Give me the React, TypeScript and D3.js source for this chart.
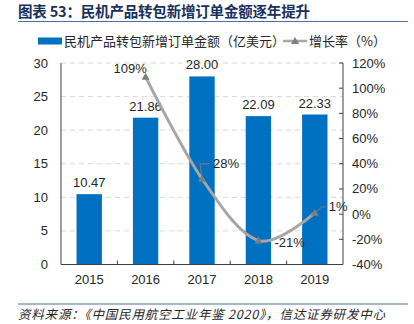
import React from "react";
import * as d3 from "d3";

const years = ["2015", "2016", "2017", "2018", "2019"];
const orders = [10.47, 21.86, 28.0, 22.09, 22.33];
const growthYears = ["2016", "2017", "2018", "2019"];
const growth = [109, 28, -21, 1];
const leftTicks = [0, 5, 10, 15, 20, 25, 30];
const rightTicks = [-40, -20, 0, 20, 40, 60, 80, 100, 120];

const W = 414, H = 324;
const plotL = 61, plotR = 343, plotT = 63, plotB = 264.5;
const font = "'Liberation Sans', Arial, sans-serif";
const txt = "#262626";

export default function App() {
  const x = d3.scaleBand<string>().domain(years).range([plotL, plotR]).paddingInner(0.55).paddingOuter(0.275);
  const xc = (d: string) => (x(d) as number) + x.bandwidth() / 2;
  const yL = d3.scaleLinear().domain([0, 30]).range([plotB, plotT]);
  const yR = d3.scaleLinear().domain([-40, 120]).range([plotB, plotT]);
  const step = (plotR - plotL) / years.length;

  const pts: [number, number][] = growthYears.map((d, i) => [xc(d), yR(growth[i])]);
  const line = d3.line().curve(d3.curveCardinal.tension(0))(pts) || "";

  const tri = (cx: number, cy: number) => `M${cx},${cy - 4} L${cx + 4},${cy + 3} L${cx - 4},${cy + 3} Z`;

  const labelPos = [
    { dx: -32, dy: -8, anchor: "start" },
    { dx: 11, dy: -15, anchor: "start", leader: true },
    { dx: 16, dy: 2, anchor: "start" },
    { dx: 14, dy: -6, anchor: "start", leader: true },
  ];

  return (
    <svg width={W} height={H} style={{ position: "absolute", left: 0, top: 0, background: "#fff" }}>
      {/* Title */}
      <text x={18} y={17} fontFamily="'Noto Sans CJK SC', sans-serif" fontWeight={700} fontSize={14.5} fill="#17305E" textLength={292} lengthAdjust="spacing">
        图表 53：民机产品转包新增订单金额逐年提升
      </text>
      <line x1={18} x2={408} y1={21.5} y2={21.5} stroke="#4A6FA5" strokeWidth={1.2} />

      {/* Legend */}
      <rect x={38} y={37.5} width={24} height={7} fill="#0070C0" />
      <text x={64} y={45.5} fontFamily="'Noto Sans CJK SC', sans-serif" fontSize={13} fill={txt}>
        民机产品转包新增订单金额（亿美元）
      </text>
      <line x1={283} x2={307} y1={41} y2={41} stroke="#A6A6A6" strokeWidth={2.5} />
      <path d={tri(295, 41)} fill="#7F7F7F" />
      <text x={309} y={45.5} fontFamily="'Noto Sans CJK SC', sans-serif" fontSize={13} fill={txt}>
        增长率（%）
      </text>

      {/* Gridlines */}
      {leftTicks.filter((t) => t > 0).map((t) => (
        <line key={t} x1={plotL} x2={plotR} y1={yL(t)} y2={yL(t)} stroke="#D9D9D9" strokeDasharray="5,4" strokeWidth={1} />
      ))}

      {/* Bars */}
      {years.map((d, i) => (
        <g key={d}>
          <rect x={x(d)} y={yL(orders[i])} width={x.bandwidth()} height={plotB - yL(orders[i])} fill="#0070C0" />
          <text x={xc(d)} y={yL(orders[i]) - 7} textAnchor="middle" fontFamily={font} fontSize={13} fill={txt}>
            {orders[i].toFixed(2)}
          </text>
        </g>
      ))}

      {/* Axes */}
      <line x1={plotL} x2={plotL} y1={plotT} y2={plotB} stroke="#404040" strokeWidth={1} />
      <line x1={plotR} x2={plotR} y1={plotT} y2={plotB} stroke="#404040" strokeWidth={1} />
      <line x1={plotL} x2={plotR} y1={plotB} y2={plotB} stroke="#404040" strokeWidth={1} />
      {d3.range(1, years.length).map((i) => (
        <line key={i} x1={plotL + step * i} x2={plotL + step * i} y1={plotB} y2={plotB - 4} stroke="#404040" />
      ))}
      {rightTicks.map((t) => (
        <line key={t} x1={plotR - 4} x2={plotR} y1={yR(t)} y2={yR(t)} stroke="#404040" />
      ))}
      {leftTicks.map((t) => (
        <text key={t} x={48} y={yL(t) + 4.5} textAnchor="end" fontFamily={font} fontSize={13} fill={txt}>
          {t}
        </text>
      ))}
      {rightTicks.map((t) => (
        <text key={t} x={352} y={yR(t) + 4.5} textAnchor="start" fontFamily={font} fontSize={13} fill={txt}>
          {t}%
        </text>
      ))}
      {years.map((d) => (
        <text key={d} x={xc(d)} y={284} textAnchor="middle" fontFamily={font} fontSize={13} fill={txt}>
          {d}
        </text>
      ))}

      {/* Growth line */}
      <path d={line} fill="none" stroke="#A6A6A6" strokeWidth={3} />
      {pts.map(([px, py], i) => (
        <path key={i} d={tri(px, py)} fill="#7F7F7F" />
      ))}
      {pts.map(([px, py], i) => {
        const lp = labelPos[i];
        const lx = px + lp.dx, ly = py + lp.dy;
        return (
          <g key={"l" + i}>
            {lp.leader && (
              <polyline
                points={`${px},${py} ${lx - 3 - (i === 1 ? 10 : 4)},${ly} ${lx - 3},${ly}`}
                fill="none"
                stroke="#7F7F7F"
                strokeWidth={1}
              />
            )}
            <text x={lx} y={ly + 4.5} textAnchor={lp.anchor as any} fontFamily={font} fontSize={13} fill={txt}>
              {growth[i]}%
            </text>
          </g>
        );
      })}

      {/* Source */}
      <line x1={18} x2={408} y1={304} y2={304} stroke="#4A6FA5" strokeWidth={1.2} />
      <text x={18} y={319} fontFamily="'Noto Sans CJK SC', sans-serif" fontStyle="italic" fontSize={12.5} fill={txt} textLength={367} lengthAdjust="spacing">
        资料来源：《中国民用航空工业年鉴 2020》，信达证券研发中心
      </text>
    </svg>
  );
}
